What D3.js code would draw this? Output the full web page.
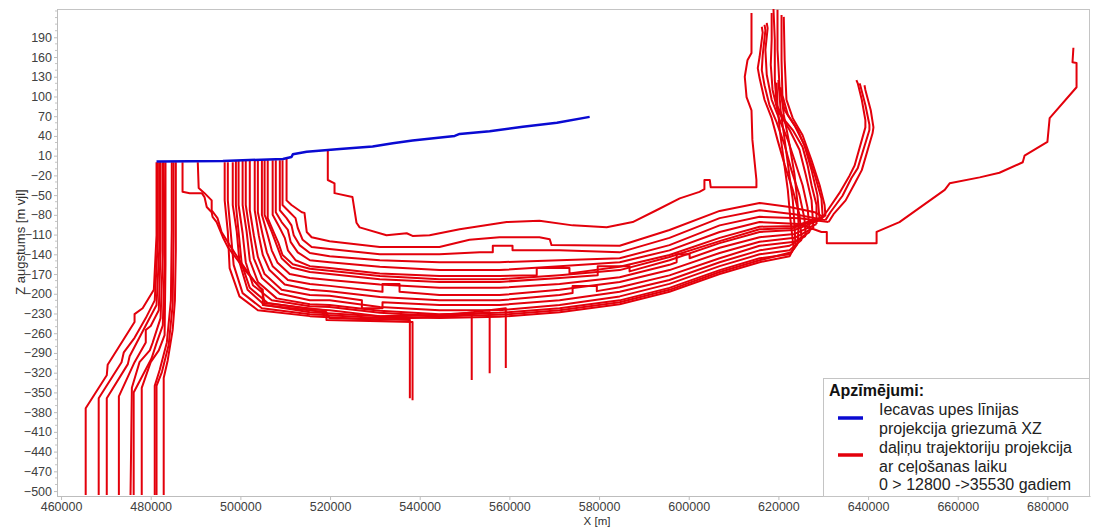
<!DOCTYPE html>
<html><head><meta charset="utf-8">
<script src="https://cdn.jsdelivr.net/npm/d3@7"></script>
<style>body{margin:0;background:#fff;} svg{display:block;font-family:"Liberation Sans",Arial,sans-serif;}</style>
</head><body><svg id="c" width="1094" height="528"></svg>
<script>
// ---------- DATA ----------
const xTicks = [460000,480000,500000,520000,540000,560000,580000,600000,620000,640000,660000,680000];
const yTicks = [190,160,130,100,70,40,10,-20,-50,-80,-110,-140,-170,-200,-230,-260,-290,-320,-350,-380,-410,-440,-470,-500];

// river (Iecava) projection
const riverX = [481300,496100,509500,511400,511700,514800,522200,529500,534000,538400,547800,548900,555600,563000,570600,577900];
const riverZ = [1,2,5,8,12,16,20,24,29,33,40,43,47,54,60,69];

// particle trajectories [X m, Z m]
const trajLeft = [
 [[481300,0],[481300,-111],[480700,-194],[478200,-222],[476400,-231],[476400,-243],[470400,-308],[470200,-324],[465500,-374],[465500,-506]],
 [[481600,0],[481600,-118],[480900,-210],[478900,-237],[476400,-267],[474000,-289],[473500,-304],[468400,-359],[468400,-506]],
 [[482000,0],[482000,-118],[481300,-217],[479300,-243],[475300,-295],[474900,-307],[470200,-359],[470200,-506]],
 [[482200,0],[482200,-134],[481800,-225],[480000,-249],[478900,-255],[478900,-274],[476400,-304],[472900,-356],[472900,-506]],
 [[482700,0],[482700,-141],[482200,-237],[480400,-275],[479800,-286],[477500,-304],[475800,-343],[475500,-506]],
 [[482900,0],[483100,-149],[482700,-248],[481300,-275],[480200,-298],[476200,-350],[476200,-506]],
 [[483300,0],[483300,-156],[483100,-263],[481800,-286],[480000,-304],[478000,-343],[478000,-506]],
 [[484700,0],[484700,-103],[484500,-210],[483600,-274],[482000,-316],[480900,-340],[480900,-506]],
 [[485100,0],[485100,-111],[484900,-217],[484000,-278],[482500,-319],[481300,-340],[481300,-506]],
 [[485600,0],[485600,-134],[485400,-210],[484900,-255],[483800,-301],[482900,-328],[482900,-506]]
];

const trajBand = [
 [[487100,0],[487100,-45],[488700,-47],[491400,-47],[492000,-53],[492500,-68],[493600,-76],[493800,-83],[494700,-91],[496100,-114],[497200,-129],[499400,-149],[501000,-164],[504300,-190],[505000,-194],[505000,-217],[519200,-228],[519200,-240],[538400,-243],[538400,-362]],
 [[490500,0],[490700,-39],[492000,-47],[493600,-58],[493600,-73],[494900,-85],[495800,-106],[497600,-126],[499800,-149],[503200,-182],[504800,-194],[505400,-214],[518800,-225],[519900,-237],[537800,-240],[537800,-359]],
 [[496500,0],[496500,-58],[497200,-106],[497600,-161],[499800,-204],[503900,-225],[515500,-234],[531100,-240],[544400,-234],[559200,-222],[559200,-313]],
 [[497200,0],[497200,-58],[497800,-103],[498500,-156],[500500,-199],[504800,-222],[515500,-231],[531100,-237],[544400,-236],[555600,-228],[555600,-321]],
 [[498300,0],[498300,-65],[499200,-106],[499800,-152],[501600,-194],[505400,-217],[515500,-228],[531100,-234],[544400,-232],[551600,-229],[551600,-331]],
 [[499600,3],[499600,-65],[500500,-108],[501200,-152],[502800,-187],[507000,-210],[515500,-219],[519900,-220],[531100,-229],[544400,-234],[557800,-232],[571200,-225],[584600,-213],[595700,-194],[606900,-167],[615800,-149],[622900,-137],[623800,-128]],
 [[499000,3],[499000,-65],[499600,-106],[500300,-155],[502100,-191],[506100,-214],[515500,-223],[519900,-225],[531100,-234],[544400,-237],[557800,-235],[571200,-228],[584600,-216],[595700,-197],[606900,-170],[615800,-152],[622500,-143],[623400,-131]],
 [[500500,3],[500500,-65],[501400,-106],[502100,-149],[503900,-182],[508100,-207],[515500,-216],[519900,-217],[531100,-226],[544400,-231],[557800,-229],[571200,-222],[584600,-210],[595700,-191],[606900,-164],[615800,-146],[622500,-140],[624300,-124]],
 [[501200,3],[501200,-65],[502100,-106],[503000,-146],[504800,-176],[508800,-200],[515500,-210],[519900,-210],[531100,-220],[544400,-225],[557800,-225],[571200,-217],[584600,-204],[595700,-185],[606900,-158],[615800,-140],[622500,-134],[625200,-118]],
 [[502100,3],[502100,-73],[503000,-111],[503900,-144],[505400,-170],[509200,-194],[515500,-202],[519900,-203],[527100,-210],[527100,-222],[531700,-222],[531700,-213],[544400,-217],[557800,-217],[571200,-210],[584600,-197],[595700,-179],[606900,-152],[615800,-134],[622500,-127],[626100,-112]],
 [[503200,3],[503200,-73],[504100,-111],[505000,-141],[506500,-164],[509900,-186],[515500,-194],[519900,-196],[531100,-205],[544400,-210],[557800,-210],[571200,-202],[574100,-199],[574100,-188],[579500,-188],[579500,-196],[584600,-190],[595700,-172],[606900,-146],[615800,-127],[623600,-121],[627000,-106]],
 [[503900,3],[503900,-76],[505000,-111],[505900,-137],[507200,-158],[510600,-179],[515500,-185],[519900,-188],[531700,-197],[531700,-185],[535500,-185],[535500,-197],[544400,-202],[557800,-202],[571200,-194],[584600,-182],[595700,-164],[606900,-138],[615800,-121],[623600,-115],[627800,-100]],
 [[504800,3],[504800,-80],[506100,-111],[507000,-134],[508300,-153],[511000,-170],[515500,-176],[519900,-179],[531100,-186],[544400,-191],[557800,-191],[571200,-185],[584600,-175],[595700,-156],[597300,-152],[597300,-140],[600200,-140],[600200,-146],[606900,-130],[615800,-114],[623600,-109],[628500,-94]],
 [[505400,3],[505400,-80],[507000,-106],[508100,-126],[509200,-146],[511400,-160],[515500,-167],[519900,-170],[531100,-178],[544400,-182],[557800,-182],[571200,-176],[579700,-172],[579700,-158],[586800,-158],[586800,-166],[595700,-149],[606900,-123],[615800,-106],[623600,-103],[629200,-88]],
 [[506100,3],[506100,-85],[507400,-106],[508500,-123],[509400,-141],[511700,-155],[515500,-162],[519900,-165],[531100,-173],[544400,-178],[557800,-178],[571200,-172],[584600,-164],[595700,-144],[606900,-120],[615800,-102],[623200,-100],[629900,-85]],
 [[507200,3],[507200,-80],[508800,-100],[509900,-115],[510600,-134],[512300,-149],[515500,-158],[519900,-161],[531100,-169],[544400,-173],[557800,-173],[566100,-172],[566100,-161],[573400,-161],[573400,-169],[584600,-159],[595700,-141],[606900,-115],[615800,-98],[623600,-97],[630500,-82]],
 [[507900,3],[507900,-76],[509200,-91],[510600,-103],[511200,-121],[512800,-137],[515500,-149],[519900,-152],[531100,-159],[544400,-164],[557800,-164],[571200,-158],[584600,-152],[595700,-134],[606900,-106],[615800,-91],[624700,-94],[629600,-106],[630800,-106],[630800,-123],[641900,-123],[641900,-106],[647000,-91],[657100,-42],[658200,-32],[664900,-23],[669300,-16],[674500,0],[674900,10],[680000,31],[680500,67],[686500,114],[686500,151],[685600,152],[685800,174]],
 [[508800,3],[508800,-73],[510300,-85],[511400,-96],[511900,-111],[513200,-126],[515500,-138],[519900,-143],[531100,-149],[544400,-152],[557800,-152],[571200,-149],[584600,-146],[595700,-126],[606900,-96],[615800,-83],[624700,-85],[631200,-91]],
 [[509400,3],[509400,-65],[511000,-76],[512300,-85],[512800,-100],[513900,-118],[515900,-129],[519900,-132],[531100,-140],[544400,-140],[553400,-137],[556300,-137],[556300,-127],[560700,-127],[560700,-134],[571200,-134],[584600,-137],[595700,-115],[606900,-85],[615800,-73],[623600,-79],[630500,-88]],
 [[510300,5],[510300,-58],[511400,-65],[513700,-76],[514300,-77],[514800,-106],[515900,-114],[519900,-120],[531100,-129],[544400,-129],[551100,-118],[557800,-114],[566700,-114],[569000,-117],[569400,-126],[584600,-127],[595700,-103],[606900,-74],[615800,-62],[622500,-68],[628100,-76],[629900,-83]],
 [[519500,19],[519500,-27],[521000,-32],[521000,-47],[525000,-53],[525900,-92],[526600,-99],[532600,-111],[537100,-108],[538400,-112],[542200,-111],[548900,-102],[551800,-99],[559400,-91],[566700,-89],[574100,-96],[581700,-99],[587500,-91],[592800,-73],[598000,-55],[602400,-45],[603500,-41],[603500,-27],[604700,-27],[604900,-38],[615100,-38],[615100,-27],[614200,34],[614000,79],[612900,99],[612500,130],[613100,155],[614000,166],[614000,227]]
];

const trajRight = [
 [[637400,125],[637700,120],[638600,95],[639400,64],[639400,53],[637000,-5],[635900,-20],[633600,-47],[631000,-73],[629900,-83]],
 [[638100,120],[638300,116],[639400,87],[640300,57],[640300,49],[637700,-9],[636300,-24],[634300,-51],[631600,-76],[630500,-88]],
 [[639200,117],[639400,110],[640600,79],[641200,53],[641000,44],[638600,-12],[637200,-30],[635000,-58],[632300,-79],[631200,-91]],
 [[616300,206],[616500,197],[615800,160],[615400,143],[615800,128],[616900,95],[618500,67],[619800,34],[621400,-4],[623200,-42],[624700,-80],[625200,-118]],
 [[616900,209],[617100,201],[616500,163],[616300,140],[616900,117],[618000,87],[619600,61],[621400,26],[622900,-12],[624700,-50],[625800,-85],[626100,-112]],
 [[617400,212],[617600,204],[617100,171],[617400,133],[618500,95],[620300,64],[622100,34],[623600,3],[625400,-35],[626500,-69],[627000,-106]],
 [[618500,227],[618500,186],[618300,148],[618700,110],[619800,79],[622500,49],[624700,19],[626100,-19],[627400,-58],[627800,-100]],
 [[618900,233],[619200,186],[619200,125],[619600,87],[621400,64],[623200,49],[625400,23],[626500,-4],[627400,-35],[628500,-65],[628500,-94]],
 [[619800,232],[619800,171],[620300,110],[621400,79],[623600,56],[625800,26],[627400,-12],[628700,-50],[629200,-88]],
 [[620700,224],[620700,155],[620900,102],[622100,72],[624300,49],[626300,18],[628100,-19],[629600,-55],[629900,-85]],
 [[621200,221],[621400,155],[621800,95],[623200,67],[625400,41],[627400,3],[629200,-35],[630300,-65],[630500,-82]],
 [[619600,121],[619800,87],[620300,49],[621200,3],[622100,-42],[622700,-88],[623400,-131]],
 [[620000,125],[620500,79],[621400,34],[622300,-12],[623200,-57],[623600,-96],[623800,-128]],
 [[620500,114],[621200,72],[622500,26],[623600,-19],[624300,-65],[624500,-96],[624300,-124]]
];

const legendTitle = "Apzīmējumi:";
const legendItems = [
  {color:"#0a0ad2", lines:["Iecavas upes līnijas","projekcija griezumā XZ"]},
  {color:"#e3000b", lines:["daļiņu trajektoriju projekcija","ar ceļošanas laiku","0 > 12800 ->35530 gadiem"]}
];

// ---------- CHART ----------
const W = 1094, H = 528;
const L = 57, R = 1090, T = 9, B = 496;
const svg = d3.select("#c");
const x = d3.scaleLinear().domain([459100, 689500]).range([L, R]);
const y = d3.scaleLinear().domain([-507.5, 233]).range([B, T]);

svg.append("rect").attr("width",W).attr("height",H).attr("fill","#fff");
svg.append("defs").append("clipPath").attr("id","clip")
  .append("rect").attr("x",L).attr("y",T).attr("width",R-L).attr("height",B-T);

// frame
svg.append("rect").attr("x",L+0.5).attr("y",T+0.5).attr("width",R-L-1).attr("height",B-T)
  .attr("fill","none").attr("stroke","#c4c4c4").attr("stroke-width",1);

// axes
const gx = svg.append("g").attr("transform",`translate(0,${B})`)
  .call(d3.axisBottom(x).tickValues(xTicks).tickSize(4).tickSizeOuter(0).tickPadding(2).tickFormat(d3.format("d")));
const gy = svg.append("g").attr("transform",`translate(${L},0)`)
  .call(d3.axisLeft(y).tickValues(yTicks).tickSize(3).tickSizeOuter(0).tickPadding(2).tickFormat(d3.format("d")));
[gx,gy].forEach(g=>{
  g.select(".domain").attr("stroke","#bdbdbd");
  g.selectAll(".tick line").attr("stroke","#bdbdbd");
  g.selectAll(".tick text").attr("fill","#404040").style("font-size","12.5px").style("font-family","'Liberation Sans',Arial,sans-serif");
});
// minor y ticks
const minorY = d3.range(-500, 231, 10).filter(v => !yTicks.includes(v));
svg.append("g").selectAll("line").data(minorY).join("line")
  .attr("x1",L-2).attr("x2",L).attr("y1",d=>y(d)).attr("y2",d=>y(d))
  .attr("stroke","#c4c4c4");

// titles
svg.append("text").attr("x",597).attr("y",525).attr("text-anchor","middle")
  .attr("fill","#303030").style("font-size","11.5px").text("X [m]");
svg.append("text").attr("transform","translate(25,242) rotate(-90)").attr("text-anchor","middle")
  .attr("fill","#303030").style("font-size","13px").text("Z augstums [m vjl]");

// lines
const line = d3.line().x(d=>x(d[0])).y(d=>y(d[1]));
const plot = svg.append("g").attr("clip-path","url(#clip)");
const red = "#e3000b";
plot.selectAll("path.traj").data([...trajLeft, ...trajBand, ...trajRight]).join("path")
  .attr("class","traj").attr("d",line).attr("fill","none")
  .attr("stroke",red).attr("stroke-width",2).attr("stroke-linejoin","round");
const river = riverX.map((v,i)=>[v, riverZ[i]]);
plot.append("path").attr("d",line(river)).attr("fill","none")
  .attr("stroke","#0a0ad2").attr("stroke-width",2.5).attr("stroke-linejoin","round");

// legend
const lg = svg.append("g");
lg.append("rect").attr("x",823.5).attr("y",378.5).attr("width",R-824).attr("height",B-378)
  .attr("fill","#fff").attr("stroke","#c4c4c4");
lg.append("text").attr("x",829).attr("y",396).style("font-size","16px").style("font-weight","bold")
  .attr("fill","#111").text(legendTitle);
const itemY = [415, 453];
const lineY = [418, 455];
legendItems.forEach((it,i)=>{
  lg.append("line").attr("x1",838).attr("x2",863).attr("y1",lineY[i]).attr("y2",lineY[i])
    .attr("stroke",it.color).attr("stroke-width",3.5);
  it.lines.forEach((t,j)=>{
    lg.append("text").attr("x",879).attr("y",itemY[i]+j*18.5).style("font-size","16px")
      .attr("fill","#222").text(t);
  });
});
</script></body></html>
